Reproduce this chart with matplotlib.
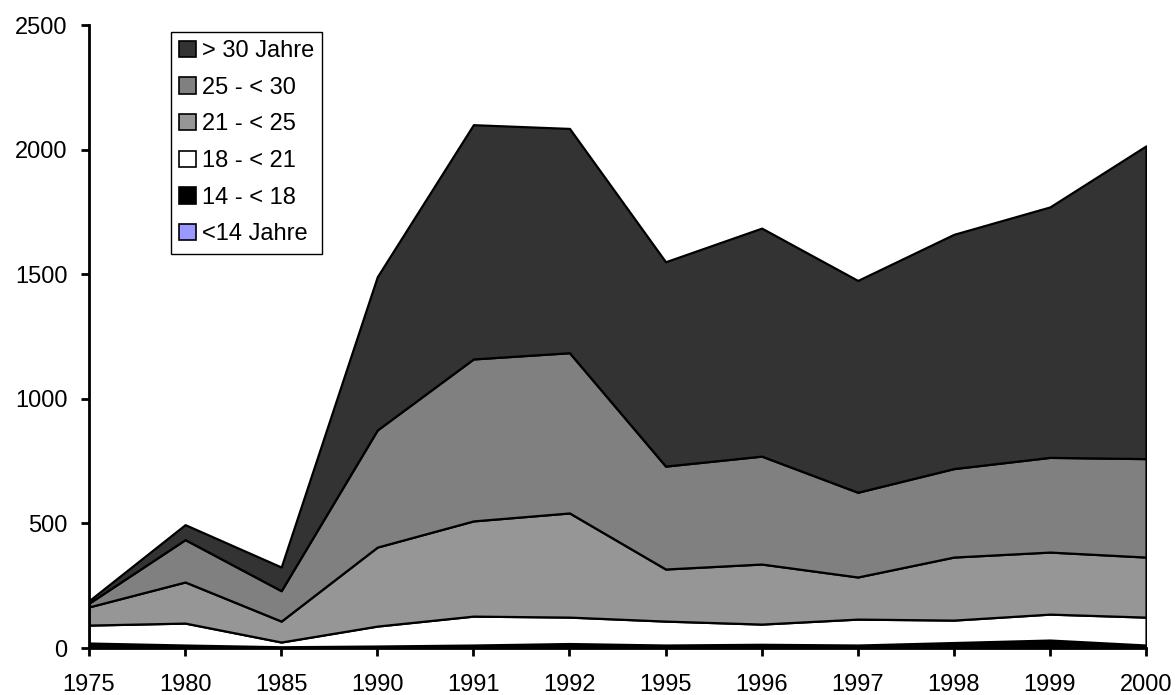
#! /usr/bin/env python3
import numpy as np
import matplotlib
matplotlib.use('Agg')
import matplotlib.pyplot as plt
from matplotlib.patches import Patch

plt.rcParams['font.family'] = ['Liberation Sans', 'DejaVu Sans']

years = ['1975', '1980', '1985', '1990', '1991', '1992',
         '1995', '1996', '1997', '1998', '1999', '2000']

# layer values
unter14 = [2, 1, 1, 1, 2, 2, 2, 2, 1, 2, 3, 2]
j14_18 = [18, 11, 4, 7, 10, 16, 10, 13, 11, 20, 29, 10]
j18_21 = [72, 88, 19, 80, 116, 106, 96, 81, 104, 90, 104, 112]
j21_25 = [73, 165, 84, 317, 382, 418, 209, 241, 169, 253, 249, 241]
j25_30 = [15, 170, 122, 470, 650, 643, 413, 433, 340, 355, 380, 395]
ueber30 = [10, 60, 95, 615, 940, 900, 820, 915, 850, 940, 1005, 1255]

labels = ['<14 Jahre', '14 - < 18', '18 - < 21', '21 - < 25', '25 - < 30', '> 30 Jahre']
colors = ['#9999FF', '#000000', '#FFFFFF', '#969696', '#808080', '#333333']


def main():
    fig = plt.figure(figsize=(11.76, 6.95), dpi=100)
    ax = fig.add_axes([0.0757, 0.0676, 0.8988, 0.8964])

    x = np.arange(len(years))
    ax.stackplot(x, unter14, j14_18, j18_21, j21_25, j25_30, ueber30,
                 colors=colors, edgecolor='black', linewidth=1.6)

    ax.set_xlim(0, len(years) - 1)
    ax.set_ylim(0, 2500)
    ax.set_xticks(x)
    ax.set_xticklabels(years)
    ax.set_yticks([0, 500, 1000, 1500, 2000, 2500])

    for s in ['top', 'right']:
        ax.spines[s].set_visible(False)
    for s in ['left', 'bottom']:
        ax.spines[s].set_linewidth(2)
    ax.tick_params(direction='out', length=6, width=2, labelsize=17)
    ax.tick_params(axis='x', pad=13)
    ax.tick_params(axis='y', pad=9.5)

    handles = [Patch(facecolor=c, edgecolor='black', linewidth=1.2) for c in colors]
    ax.legend(handles[::-1], labels[::-1], loc='upper left',
              bbox_to_anchor=(0.0775, 0.989), borderaxespad=0,
              fontsize=17, frameon=True, fancybox=False, edgecolor='black',
              framealpha=1, handlelength=0.7, handleheight=0.7,
              handletextpad=0.25, labelspacing=0.62, borderpad=0.35)

    fig.savefig('out.png')


if __name__ == '__main__':
    main()
